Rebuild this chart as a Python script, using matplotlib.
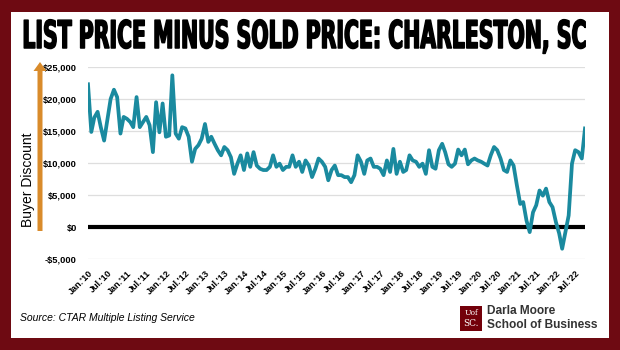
import matplotlib

matplotlib.use("Agg")
import matplotlib.patheffects as pe
import matplotlib.pyplot as plt
import pandas as pd
from matplotlib import font_manager
from matplotlib.patches import FancyArrow, Rectangle
from matplotlib.ticker import FuncFormatter, MultipleLocator
from matplotlib.transforms import Affine2D

# List price minus sold price, monthly from Jan 2010 (USD)
discount = [
    22300, 14850, 17100, 18000, 15600, 13500, 16700, 20000, 21450, 20300,
    14600, 17200, 16900, 16400, 15600, 20300, 15600, 16400, 17200, 15900,
    11700, 19500, 14800, 19300, 14100, 14300, 23700, 14600, 13800, 15600,
    15400, 14100, 10200, 12200, 12800, 13800, 16100, 13300,
    14100, 13000, 12000, 11200, 12500, 12000, 10900, 8300, 9900, 11200,
    8900, 11500, 9400, 11700, 9600, 9100, 8900, 8900, 9400, 11200,
    9400, 9900, 8900, 9400, 9400, 11200, 9400, 10200, 8600, 10400,
    9600, 7800, 9100, 10700, 10200, 9400, 7300,
    8900, 9600, 8100, 8100, 7800, 7800, 7000, 8100, 11200, 10200,
    8300, 10400, 10700, 9400, 9400, 9100, 8100, 10400, 8600, 12200,
    8300, 10200, 8600, 8900, 11200, 10400, 10200, 9400, 9900, 8300,
    12000, 9400, 9100, 12000, 13000, 11700, 9800,
    9400, 9900, 12100, 11200, 12100, 9800, 10400, 10700, 10400, 10200,
    9900, 9600, 11200, 12500, 12000, 10700, 8900, 8600, 10400, 9600,
    6500, 3600, 3900, 1000, -800, 2300, 3400, 5700, 4900, 6000,
    3900, 3100, 800, -1000, -3400, -800, 1800, 9900, 12000, 11700,
    10700, 15400,
]
start_month = "2010-01"
tick_years = list(range(2010, 2023))
title = "LIST PRICE MINUS SOLD PRICE: CHARLESTON, SC"
y_label = "Buyer Discount"
source = "Source: CTAR Multiple Listing Service"
school = ["Darla Moore", "School of Business"]

garnet = "#6E0A12"
teal = "#1A8A9F"
orange = "#D98B2B"

plt.rcParams["font.family"] = "Liberation Sans"

dates = pd.date_range(start_month, periods=len(discount), freq="MS")
ticks = [pd.Timestamp(y, m, 1) for y in tick_years for m in (1, 7)]
ticks = [t for t in ticks if t <= dates[-1]]
tick_labels = [("Jan." if t.month == 1 else "Jul.") + "'" + t.strftime("%y") for t in ticks]


class Stretch(pe.Stroke):
    """Stroke that also stretches the glyphs vertically about a baseline."""

    def __init__(self, sy, base, **kw):
        super().__init__(**kw)
        self.sy, self.base = sy, base

    def draw_path(self, renderer, gc, tpath, affine, rgbFace):
        tall = Affine2D().translate(0, -self.base).scale(1, self.sy).translate(0, self.base)
        super().draw_path(renderer, gc, tpath, affine + tall, rgbFace)


W, H = 620, 350
fig = plt.figure(figsize=(W / 100, H / 100), dpi=100, facecolor=garnet)
fig.add_artist(Rectangle((11 / W, 12 / H), 598 / W, 326 / H, transform=fig.transFigure,
                         facecolor="white", edgecolor="none", zorder=0))

ax = fig.add_axes([88 / W, 1 - 259 / H, 497 / W, 192 / H])
ax.set_facecolor("white")
ax.plot(dates, discount, color=teal, lw=2.7, solid_joinstyle="round", zorder=4)
ax.axhline(0, color="black", lw=3, zorder=3)
ax.set_xlim(dates[0], dates[-1])
ax.set_ylim(-5000, 25000)
ax.yaxis.set_major_locator(MultipleLocator(5000))
ax.yaxis.set_major_formatter(FuncFormatter(
    lambda v, _: ("-$" if v < 0 else "$") + f"{abs(v):,.0f}"))
ax.grid(axis="y", color="#DEDEDE", lw=0.9)
ax.set_axisbelow(True)
for s in ax.spines.values():
    s.set_visible(False)
ax.tick_params(length=0)
ax.tick_params(axis="y", pad=8, labelsize=6.7)
ax.set_xticks(ticks)
ax.set_xticklabels(tick_labels, rotation=45, ha="right", rotation_mode="anchor",
                   fontsize=6.5, fontweight="bold")
ax.tick_params(axis="x", pad=7)
for lab in ax.get_yticklabels():
    lab.set_fontweight("bold")

# title: bold, stretched tall to mimic a condensed display face
names = {f.name for f in font_manager.fontManager.ttflist}
title_font = "Liberation Sans Narrow" if "Liberation Sans Narrow" in names else "DejaVu Sans"
base = H - 48
t = fig.text(304 / W, base / H, title, ha="center", va="baseline", fontsize=14,
             fontweight="bold", family=title_font, color="black")
fig.canvas.draw()
fs = 14 * 564 / t.get_window_extent().width
t.set_fontsize(fs)
cap = 0.72 * fs * 100 / 72
t.set_path_effects([Stretch(27.5 / cap, base, linewidth=1.1, foreground="black")])

# y label with orange arrow
fig.text(28 / W, 1 - 180 / H, y_label, rotation=90, ha="center", va="center", fontsize=10)
fig.add_artist(FancyArrow(0.40, (H - 231) / 100, 0, (231 - 62) / 100, width=0.05,
                          head_width=0.13, head_length=0.09, length_includes_head=True,
                          transform=fig.dpi_scale_trans, color=orange, lw=0))

fig.text(20 / W, 1 - 318 / H, source, style="italic", fontsize=7.5, va="center")

# school logo
fig.add_artist(Rectangle((460 / W, 1 - 331 / H), 22 / W, 25 / H, transform=fig.transFigure,
                         facecolor="#73000A", edgecolor="none"))
fig.text(471 / W, 1 - 313 / H, "Uof", family="DejaVu Serif", fontsize=5.5, color="white",
         ha="center", va="center")
fig.text(471 / W, 1 - 324 / H, "SC.", family="DejaVu Serif", fontsize=6.5, color="white",
         ha="center", va="center")
fig.text(487 / W, 1 - 311 / H, school[0], fontsize=8.6, fontweight="bold", color="#333333",
         va="center")
fig.text(487 / W, 1 - 325 / H, school[1], fontsize=8.6, fontweight="bold", color="#333333",
         va="center")

fig.savefig("out.png", dpi=100, facecolor=garnet)
